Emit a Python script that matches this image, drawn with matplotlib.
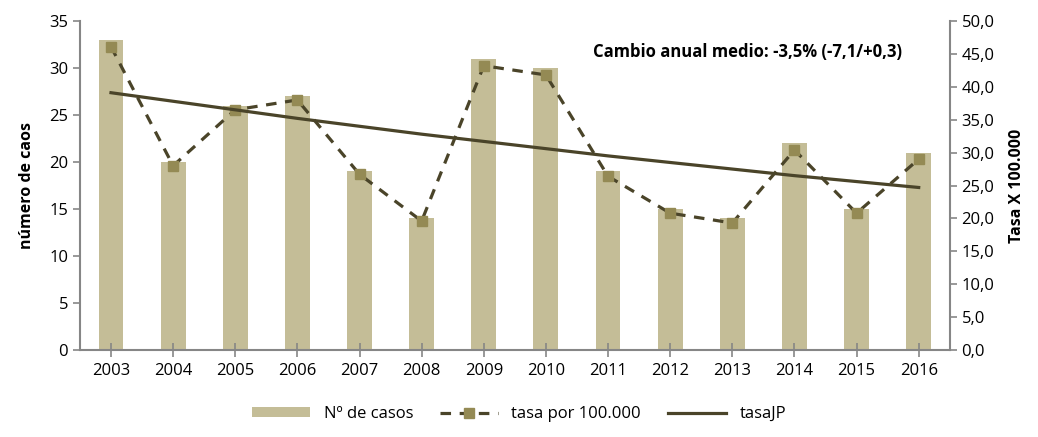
# Casos y tasa por 100.000, 2003-2016

import matplotlib.pyplot as plt
from matplotlib.ticker import FuncFormatter

plt.rcParams["font.family"] = ["Open Sans", "DejaVu Sans"]

years = ["2003", "2004", "2005", "2006", "2007", "2008", "2009",
         "2010", "2011", "2012", "2013", "2014", "2015", "2016"]
casos = [33, 20, 26, 27, 19, 14, 31, 30, 19, 15, 14, 22, 15, 21]
tasa = [46.1, 28.0, 36.5, 38.0, 26.7, 19.6, 43.2,
        41.8, 26.4, 20.8, 19.3, 30.4, 20.8, 29.0]
tasa_jp = [39.1, 37.8, 36.5, 35.2, 34.0, 32.8, 31.7,
           30.6, 29.5, 28.5, 27.5, 26.5, 25.6, 24.7]

bar_color = "#C4BD97"
mark_color = "#948A54"
line_color = "#4A4429"
grey = "#868686"

fig, ax = plt.subplots(figsize=(10.38, 4.37), dpi=100)
fig.subplots_adjust(left=0.077, right=0.915, top=0.952, bottom=0.199)

x = range(len(years))
bars = ax.bar(x, casos, width=0.4, color=bar_color, label="Nº de casos", zorder=1)
ax.set_xlim(-0.5, len(years) - 0.5)
ax.set_ylim(0, 35)
ax.set_yticks(range(0, 36, 5))
ax.set_xticks(list(x))
ax.set_xticklabels(years)
ax.set_ylabel("número de caos", fontsize=11.5, fontweight="bold", labelpad=10)

ax2 = ax.twinx()
l1, = ax2.plot(x, tasa, linestyle=(0, (3.3, 2.7)), color=line_color, lw=2.3,
               marker="s", markersize=6.5, markerfacecolor=mark_color,
               markeredgecolor=mark_color, label="tasa por 100.000")
l2, = ax2.plot(x, tasa_jp, color=line_color, lw=2.3, label="tasaJP")
ax2.set_ylim(0, 50)
ax2.set_yticks(range(0, 51, 5))
ax2.yaxis.set_major_formatter(FuncFormatter(lambda v, p: f"{v:.1f}".replace(".", ",")))
ax2.set_ylabel("Tasa X 100.000", fontsize=11.5, fontweight="bold", labelpad=10)

for a in (ax, ax2):
    for s in a.spines.values():
        s.set_visible(False)
    a.tick_params(labelsize=12, color=grey, length=5, width=1.2)
ax.spines["left"].set_visible(True)
ax.spines["bottom"].set_visible(True)
ax2.spines["right"].set_visible(True)
for s in (ax.spines["left"], ax.spines["bottom"], ax2.spines["right"]):
    s.set_color(grey)
    s.set_linewidth(1.5)
ax.tick_params(axis="x", direction="inout", length=10, pad=4)
ax.tick_params(axis="y", direction="out")
ax2.tick_params(axis="y", direction="out")

ax2.text(0.945, 0.905, "Cambio anual medio: -3,5% (-7,1/+0,3)",
         transform=ax2.transAxes, ha="right", va="center",
         fontsize=12, fontweight="bold")

fig.legend([bars, l1, l2], ["Nº de casos", "tasa por 100.000", "tasaJP"],
           loc="lower center", bbox_to_anchor=(0.5, 0.0), ncol=3,
           frameon=False, fontsize=12, handlelength=3.5, handleheight=0.5,
           columnspacing=1.6)

fig.savefig("out.png", dpi=100)
